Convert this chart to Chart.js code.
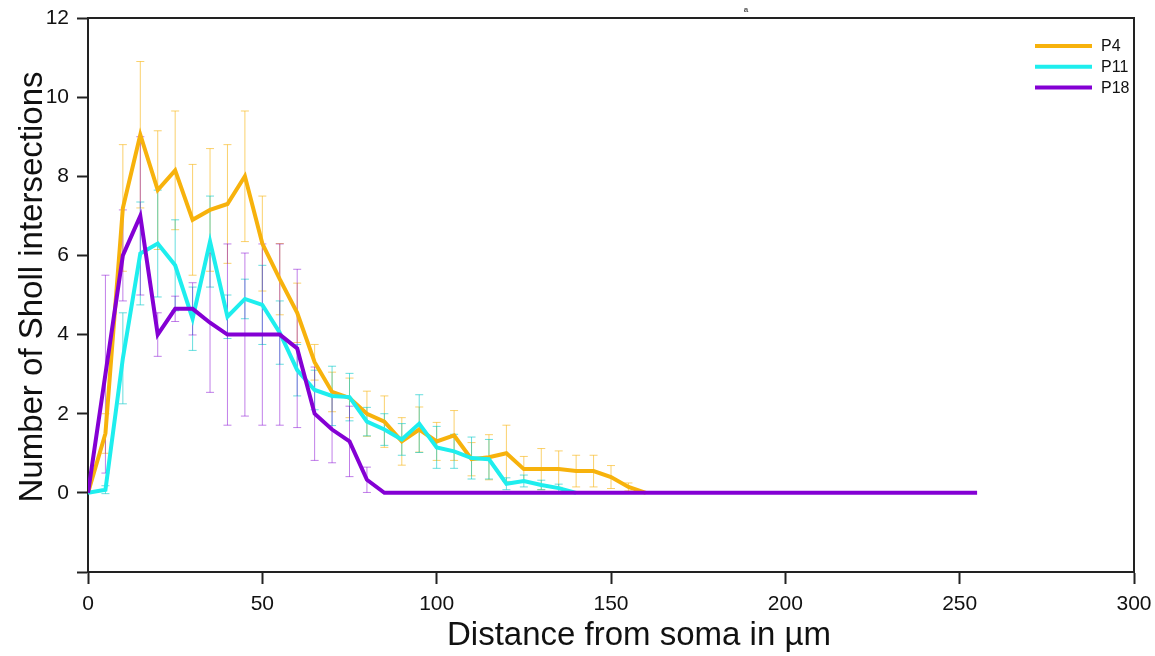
<!DOCTYPE html>
<html>
<head>
<meta charset="utf-8">
<script src="https://cdn.jsdelivr.net/npm/chart.js@4.4.1/dist/chart.umd.min.js"></script>
<style>
  body { margin: 0; background: #fff; }
</style>
</head>
<body>
<canvas id="chart" width="1155" height="656"></canvas>
<script>
// distances from soma (µm), one per sample
const distance = [0, 5, 10, 15, 20, 25, 30, 35, 40, 45, 50, 55, 60, 65, 70, 75, 80, 85, 90, 95,
  100, 105, 110, 115, 120, 125, 130, 135, 140, 145, 150, 155, 160, 165, 170, 175, 180, 185, 190, 195,
  200, 205, 210, 215, 220, 225, 230, 235, 240, 245, 250, 255];

// mean number of intersections and error for each age
const p4Mean = [0, 1.5, 7.2, 9.05, 7.65, 8.15, 6.9, 7.15, 7.3, 8.0, 6.3, 5.4, 4.55, 3.3, 2.55, 2.4, 2.0, 1.8, 1.3, 1.6,
  1.3, 1.45, 0.85, 0.9, 1.0, 0.6, 0.6, 0.6, 0.55, 0.55, 0.4, 0.15, 0];
const p4Err = [0, 0.5, 1.6, 1.85, 1.5, 1.5, 1.4, 1.55, 1.5, 1.65, 1.2, 0.9, 0.75, 0.45, 0.5, 0.5, 0.57, 0.65, 0.6, 0.57,
  0.48, 0.63, 0.42, 0.57, 0.71, 0.32, 0.52, 0.46, 0.4, 0.4, 0.29, 0.1, 0];

const p11Mean = [0, 0.08, 3.4, 6.05, 6.3, 5.75, 4.4, 6.35, 4.45, 4.9, 4.75, 4.05, 3.1, 2.6, 2.45, 2.42, 1.8, 1.6, 1.35, 1.75,
  1.15, 1.05, 0.88, 0.85, 0.23, 0.3, 0.2, 0.12, 0];
const p11Err = [0, 0.1, 1.15, 1.3, 1.35, 1.15, 0.8, 1.15, 0.55, 0.5, 1.0, 0.8, 0.65, 0.5, 0.75, 0.6, 0.36, 0.4, 0.4, 0.73,
  0.53, 0.43, 0.53, 0.5, 0.15, 0.15, 0.12, 0.1, 0];

const p18Mean = [0, 3.0, 6.0, 7.0, 4.0, 4.65, 4.65, 4.3, 4.0, 4.0, 4.0, 4.0, 3.65, 2.0, 1.6, 1.3, 0.33, 0, 0, 0,
  0, 0, 0, 0, 0, 0, 0, 0, 0, 0, 0, 0, 0, 0, 0, 0, 0, 0, 0, 0,
  0, 0, 0, 0, 0, 0, 0, 0, 0, 0, 0, 0];
const p18Err = [0, 2.5, 1.15, 2.0, 0.55, 0.32, 0.66, 1.76, 2.29, 2.06, 2.29, 2.29, 2.0, 1.18, 0.84, 0.89, 0.32];

const seriesNames = ["P4", "P11", "P18"];
const yTicks = [-2, 0, 2, 4, 6, 8, 10, 12];
const xTitle = "Distance from soma in µm";
const yTitle = "Number of Sholl intersections";

const colors = ["rgb(247, 178, 12)", "rgb(30, 238, 238)", "rgb(132, 0, 212)"];
const barColors = ["rgba(247, 178, 12, 0.6)", "rgba(0, 200, 200, 0.6)", "rgba(132, 0, 212, 0.5)"];

// turn the arrays into {x, y} points
function toPoints(means) {
  const pts = [];
  for (let i = 0; i < means.length; i++) {
    pts.push({ x: distance[i], y: means[i] });
  }
  return pts;
}

const errors = [p4Err, p11Err, p18Err];

// draw the error bars under the lines
const errorBars = {
  id: "errorBars",
  beforeDatasetsDraw(chart) {
    const ctx = chart.ctx;
    const xs = chart.scales.x;
    const ys = chart.scales.y;
    ctx.save();
    ctx.lineWidth = 1;
    chart.data.datasets.forEach((ds, d) => {
      const err = errors[d];
      ctx.strokeStyle = barColors[d];
      for (let i = 0; i < err.length; i++) {
        if (!err[i]) continue;
        const px = xs.getPixelForValue(ds.data[i].x);
        const top = ys.getPixelForValue(ds.data[i].y + err[i]);
        const bot = ys.getPixelForValue(ds.data[i].y - err[i]);
        ctx.beginPath();
        ctx.moveTo(px, top);
        ctx.lineTo(px, bot);
        ctx.moveTo(px - 4, top);
        ctx.lineTo(px + 4, top);
        ctx.moveTo(px - 4, bot);
        ctx.lineTo(px + 4, bot);
        ctx.stroke();
      }
    });
    ctx.restore();
  },
};

// box around the plot, legend in the corner, axis titles and the little "a"
const extras = {
  id: "extras",
  afterDraw(chart) {
    const ctx = chart.ctx;
    const a = chart.chartArea;
    ctx.save();
    ctx.strokeStyle = "#222";
    ctx.lineWidth = 2;
    ctx.beginPath();
    ctx.moveTo(a.left, a.top);
    ctx.lineTo(a.right, a.top);
    ctx.lineTo(a.right, a.bottom);
    ctx.stroke();

    ctx.font = "16px Arial, 'Liberation Sans', sans-serif";
    ctx.textBaseline = "middle";
    ctx.fillStyle = "#111";
    chart.data.datasets.forEach((ds, d) => {
      const y = a.top + 28 + d * 20.8;
      ctx.strokeStyle = ds.borderColor;
      ctx.lineWidth = 4;
      ctx.beginPath();
      ctx.moveTo(a.right - 99, y);
      ctx.lineTo(a.right - 42, y);
      ctx.stroke();
      ctx.fillText(ds.label, a.right - 33, y + 1);
    });

    // axis titles sit a little off centre in the original
    ctx.font = "33px Arial, 'Liberation Sans', sans-serif";
    ctx.textAlign = "center";
    ctx.textBaseline = "alphabetic";
    ctx.fillText(xTitle, 639, 645);
    ctx.save();
    ctx.translate(42, 287);
    ctx.rotate(-Math.PI / 2);
    ctx.fillText(yTitle, 0, 0);
    ctx.restore();

    ctx.font = "bold 8px Arial, 'Liberation Sans', sans-serif";
    ctx.fillStyle = "#555";
    ctx.textBaseline = "middle";
    ctx.fillText("a", 746, 10);
    ctx.restore();
  },
};

const ctx = document.getElementById("chart");
new Chart(ctx, {
  type: "line",
  data: {
    datasets: [
      { label: seriesNames[0], data: toPoints(p4Mean), borderColor: colors[0], order: 3 },
      { label: seriesNames[1], data: toPoints(p11Mean), borderColor: colors[1], order: 2 },
      { label: seriesNames[2], data: toPoints(p18Mean), borderColor: colors[2], order: 1 },
    ],
  },
  options: {
    responsive: false,
    animation: false,
    devicePixelRatio: 1,
    layout: { padding: 0 },
    elements: {
      line: { borderWidth: 4, tension: 0, fill: false },
      point: { radius: 0, hoverRadius: 0 },
    },
    plugins: {
      legend: { display: false },
      tooltip: { enabled: false },
    },
    scales: {
      x: {
        type: "linear",
        min: 0,
        max: 300,
        afterFit(scale) {
          scale.height = 84;
          scale.paddingLeft = 0;
          scale.paddingRight = 21;
        },
        ticks: {
          stepSize: 50,
          padding: 8,
          color: "#111",
          font: { family: "Arial, 'Liberation Sans', sans-serif", size: 21 },
          maxRotation: 0,
        },
        grid: { drawOnChartArea: false, tickLength: 12, tickWidth: 2, tickColor: "#222" },
        border: { display: true, color: "#222", width: 2 },
      },
      y: {
        type: "linear",
        min: -2,
        max: 12,
        afterFit(scale) {
          scale.width = 88;
          scale.paddingTop = 18;
          scale.paddingBottom = 0;
        },
        afterBuildTicks(scale) { scale.ticks = yTicks.map(v => ({ value: v })); },
        ticks: {
          padding: 8,
          color: "#111",
          font: { family: "Arial, 'Liberation Sans', sans-serif", size: 21 },
          callback: (v) => (v === -2 ? "" : v),
        },
        grid: { drawOnChartArea: false, tickLength: 11, tickWidth: 2, tickColor: "#222" },
        border: { display: true, color: "#222", width: 2 },
      },
    },
  },
  plugins: [errorBars, extras],
});
</script>
</body>
</html>
